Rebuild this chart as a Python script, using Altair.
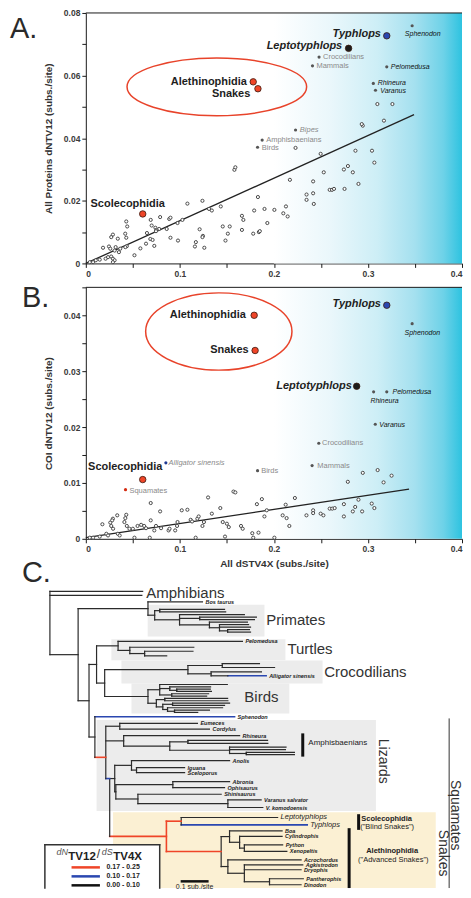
import altair as alt
import pandas as pd

FONT = "Liberation Sans"
RED = "#ef4528"
BLUE = "#2a47b0"
BLK = "#2b2b2b"
W = 377
HA = 251
HB = 252
HC = 326

# ---------------- ticks ----------------
X_TICKS = [0, 0.05, 0.1, 0.15, 0.2, 0.25, 0.3, 0.35, 0.4]
A_Y_TICKS = [0, 0.01, 0.02, 0.03, 0.04, 0.05, 0.06, 0.07, 0.08]
B_Y_TICKS = [0, 0.005, 0.01, 0.015, 0.02, 0.025, 0.03, 0.035, 0.04, 0.045]

# ---------------- Panel A (all proteins) ----------------
A_PTS_X = [0.158, 0.159, 0.183, 0.108, 0.124, 0.1435, 0.134, 0.131, 0.179, 0.190, 0.2005, 0.166, 0.1675, 0.166,
           0.178, 0.184, 0.185, 0.193, 0.1456, 0.153, 0.151, 0.1485, 0.121, 0.1245, 0.124, 0.126, 0.117, 0.116,
           0.1027, 0.0975, 0.079, 0.0887, 0.090, 0.086, 0.090, 0.098, 0.078, 0.069, 0.070, 0.074, 0.075, 0.0746,
           0.065, 0.0686, 0.071, 0.0728, 0.064, 0.058, 0.0517, 0.043, 0.044, 0.0419, 0.043, 0.0436, 0.042, 0.034,
           0.0288, 0.027, 0.0317, 0.0306, 0.0366, 0.0352, 0.0246, 0.026, 0.0183, 0.027, 0.0288, 0.0236, 0.021,
           0.0148, 0.0106, 0.0077, 0.0042, 0.0306, 0.0288,
           0.310, 0.326, 0.2945, 0.2934, 0.317, 0.223, 0.2497, 0.2867, 0.3043, 0.3068, 0.217, 0.2417, 0.253,
           0.2744, 0.2787, 0.2839, 0.2899, 0.2593, 0.2618, 0.2639, 0.2751, 0.2347, 0.2417, 0.2347, 0.2424,
           0.2128, 0.2100, 0.2146]
A_PTS_Y = [0.0299, 0.0307, 0.0212, 0.0191, 0.0200, 0.0182, 0.0169, 0.0174, 0.0169, 0.0174, 0.0171, 0.0152, 0.0139, 0.0107,
           0.0095, 0.0100, 0.0103, 0.0129, 0.0118, 0.0118, 0.0095, 0.0073, 0.0109, 0.0088, 0.0084, 0.0050, 0.0068, 0.0054,
           0.0139, 0.0129, 0.0148, 0.0142, 0.0146, 0.0110, 0.0082, 0.0073, 0.0110, 0.0139, 0.0121, 0.0114, 0.0107, 0.0103,
           0.0097, 0.0078, 0.0075, 0.0056, 0.0063, 0.0048, 0.0026, 0.0134, 0.0118, 0.0095, 0.0082, 0.0055, 0.0052, 0.0079,
           0.0092, 0.0084, 0.0052, 0.0041, 0.0047, 0.0036, 0.0054, 0.0047, 0.0050, 0.0022, 0.0015, 0.0020, 0.0015,
           0.0012, 0.0010, 0.0004, 0.0004, 0.0010, 0.0004,
           0.0509, 0.0509, 0.0440, 0.0445, 0.0456, 0.0369, 0.0350, 0.0360, 0.0360, 0.0322, 0.0267, 0.0262, 0.0291,
           0.0300, 0.0311, 0.0291, 0.0254, 0.0235, 0.0235, 0.0238, 0.0238, 0.0220, 0.0224, 0.0203, 0.0190,
           0.0182, 0.0160, 0.0150]
A_SMALL_X = [0.248, 0.241, 0.320, 0.347, 0.3057, 0.308, 0.223, 0.1875, 0.1826]
A_SMALL_Y = [0.0659, 0.0631, 0.0628, 0.0759, 0.0575, 0.0553, 0.0426, 0.0394, 0.0371]
A_SMALL_C = ["#555555"] * 9
A_BIG_X = [0.320, 0.2794, 0.178, 0.183, 0.0605]
A_BIG_Y = [0.0727, 0.0687, 0.058, 0.0558, 0.0158]
A_BIG_C = [BLUE, "#1c1c1c", RED, RED, RED]
A_LAB_TEXT = ["Typhlops", "Leptotyphlops", "Alethinophidia", "Snakes", "Scolecophidia", "Crocodilians", "Mammals",
              "Pelomedusa", "Sphenodon", "Rhineura", "Varanus", "Bipes", "Amphisbaenians", "Birds"]
A_LAB_X = [0.3138, 0.2726, 0.1713, 0.1749, 0.005, 0.2522, 0.2452, 0.3243, 0.3582, 0.3103, 0.3131, 0.2276, 0.1918, 0.1871]
A_LAB_Y = [0.0732, 0.0695, 0.0581, 0.0541, 0.0190, 0.0658, 0.0631, 0.0628, 0.0734, 0.0576, 0.0552, 0.0427, 0.0395, 0.0370]
A_LAB_STYLE = ["bigi", "bigi", "big", "big", "bigl", "gray", "gray", "sp", "spc", "sp", "sp", "grayi", "gray", "gray"]
A_FIT_X = [0.0, 0.349]
A_FIT_Y = [0.0, 0.0475]
A_ELL_X = [0.1393]
A_ELL_Y = [0.0564]

# ---------------- Panel B (COI) ----------------
B_PTS_X = [0.157, 0.159, 0.130, 0.069, 0.079, 0.102, 0.108, 0.143, 0.043, 0.042, 0.041, 0.0334, 0.0176, 0.026,
           0.027, 0.029, 0.0588, 0.069, 0.080, 0.088, 0.089, 0.0975, 0.097, 0.1115, 0.113, 0.1186, 0.120, 0.124,
           0.1256, 0.134, 0.1456, 0.150, 0.152, 0.165, 0.1668, 0.177, 0.1836, 0.178, 0.2005, 0.068, 0.0517,
           0.1168, 0.148, 0.034, 0.036, 0.0464, 0.050, 0.055, 0.062, 0.064, 0.0728, 0.0746, 0.0218, 0.0236,
           0.0148, 0.0077, 0.0042, 0.0288, 0.028, 0.0436, 0.095,
           0.2945, 0.3103, 0.3251, 0.3166, 0.2786, 0.1819, 0.1872, 0.2223, 0.2125, 0.1924, 0.1899, 0.2093,
           0.2135, 0.2164, 0.2346, 0.2417, 0.2417, 0.2497, 0.2526, 0.2593, 0.2621, 0.2646, 0.2744, 0.2744,
           0.2839, 0.2864, 0.2899, 0.2938, 0.3040, 0.3068]
B_PTS_Y = [0.00845, 0.0083, 0.0074, 0.0064, 0.0049, 0.0051, 0.0052, 0.0055, 0.0043, 0.0037, 0.0030, 0.0042, 0.0026, 0.0029,
           0.0023, 0.0018, 0.0025, 0.0033, 0.0019, 0.0015, 0.0018, 0.0030, 0.0023, 0.0034, 0.0031, 0.0036, 0.0040, 0.0023,
           0.0030, 0.0045, 0.0030, 0.0027, 0.0021, 0.0023, 0.0018, 0.0010, 0.0011, 0.0002, 0.0002, 0.0002, 0.0002,
           0.0002, 0.0004, 0.0009, 0.0006, 0.0018, 0.0018, 0.0023, 0.0023, 0.0019, 0.0015, 0.0023, 0.0009, 0.0006,
           0.0004, 0.0002, 0.0002, 0.0036, 0.0033, 0.0023, 0.0015,
           0.0118, 0.0123, 0.0113, 0.0101, 0.0102, 0.0062, 0.0071, 0.0073, 0.0061, 0.0051, 0.0040, 0.0042,
           0.0037, 0.0023, 0.0042, 0.0051, 0.0046, 0.0045, 0.0042, 0.0054, 0.0054, 0.0055, 0.0062, 0.0040,
           0.0049, 0.0057, 0.0070, 0.0049, 0.0063, 0.0055]
B_SMALL_X = [0.347, 0.306, 0.320, 0.3078, 0.2477, 0.2406, 0.1826, 0.0851, 0.0422]
B_SMALL_Y = [0.0385, 0.0263, 0.0263, 0.0205, 0.0171, 0.0131, 0.0122, 0.0136, 0.0088]
B_SMALL_C = ["#555555"] * 7 + ["#1f3a93", "#d42a10"]
B_BIG_X = [0.320, 0.179, 0.180, 0.288, 0.0605]
B_BIG_Y = [0.0418, 0.0400, 0.0337, 0.0273, 0.0106]
B_BIG_C = [BLUE, RED, RED, "#1c1c1c", RED]
B_LAB_TEXT = ["Typhlops", "Alethinophidia", "Snakes", "Leptotyphlops", "Scolecophidia", "Sphenodon", "Pelomedusa",
              "Rhineura", "Varanus", "Crocodilians", "Mammals", "Birds", "Alligator sinensis", "Squamates"]
B_LAB_X = [0.3138, 0.1702, 0.1731, 0.2829, 0.0024, 0.3578, 0.3261, 0.3026, 0.3121, 0.2512, 0.2462, 0.1865, 0.0879, 0.0464]
B_LAB_Y = [0.0420, 0.0401, 0.0338, 0.0274, 0.0128, 0.0369, 0.0262, 0.0247, 0.0204, 0.0171, 0.0131, 0.0122, 0.0136, 0.0085]
B_LAB_STYLE = ["bigi", "big", "big", "bigi", "bigl", "spc", "sp", "sp", "sp", "gray", "gray", "gray", "grayi", "gray"]
B_FIT_X = [0.0, 0.3437]
B_FIT_Y = [0.0002, 0.0089]
B_ELL_X = [0.1414]
B_ELL_Y = [0.0371]

# ---------------- Panel C (tree) ----------------
def N(x, kids, c=BLK, vc=BLK, y=None):
    return {"x": x, "kids": kids, "c": c, "vc": vc, "y": y}


def L(x, y, name="", c=BLK, st="t"):
    return {"x": x, "y": y, "name": name, "c": c, "st": st}


TREE = N(0.0, [
    L(0.332, 2.7), L(0.329, 6.7),
    N(0.101, [
        N(0.351, [
            L(0.546, 13.3, "Bos taurus"),
            N(0.375, [
                N(0.393, [L(0.625, 20.7), L(0.629, 23.3)]),
                N(0.464, [L(0.696, 26.0),
                          N(0.536, [L(0.739, 28.5), L(0.732, 31.0)]),
                          N(0.571, [L(0.707, 33.5),
                                    N(0.607, [L(0.711, 36.0), L(0.718, 38.5),
                                              N(0.636, [L(0.714, 41.0), L(0.718, 43.5)])])])])])]),
        N(0.140, [
            N(0.167, [
                N(0.244, [L(0.689, 52.7, "Pelomedusa"),
                          N(0.286, [L(0.515, 58.7), N(0.339, [L(0.512, 62.7), L(0.418, 67.3)])])]),
                N(0.196, [
                    N(0.494, [N(0.617, [L(0.750, 75.0), L(0.804, 79.0)]),
                              N(0.577, [L(0.757, 83.3),
                                        N(0.637, [L(0.774, 87.3, "Alligator sinensis", BLUE)])])]),
                    N(0.351, [
                        N(0.393, [L(0.635, 96.0),
                                  N(0.429, [L(0.575, 98.3), N(0.454, [L(0.574, 100.7), L(0.578, 103.0)])]),
                                  N(0.436, [L(0.568, 105.3), L(0.561, 107.7)])]),
                        N(0.381, [N(0.411, [L(0.636, 110.0), L(0.637, 112.3)]),
                                  N(0.404, [N(0.439, [L(0.643, 114.7), L(0.625, 117.0)]),
                                            N(0.421, [L(0.618, 119.3),
                                                      N(0.446, [L(0.571, 121.7), L(0.529, 124.0)])])])])])])]),
            N(0.161, [
                L(0.661, 128.3, "Sphenodon", BLUE),
                N(0.200, [
                    N(0.250, [L(0.528, 135.0, "Eumeces"), L(0.571, 140.7, "Cordylus")]),
                    N(0.264, [L(0.679, 147.3, "Rhineura"),
                              N(0.429, [N(0.494, [L(0.779, 152.0), L(0.780, 155.0)]),
                                        N(0.643, [L(0.845, 158.7), L(0.843, 161.3),
                                                  N(0.703, [L(0.875, 164.0), L(0.875, 166.3)])])])]),
                    N(0.214, [
                        N(0.232, [
                            N(0.292, [L(0.643, 172.3, "Anolis"),
                                      N(0.310, [L(0.482, 179.3, "Iguana"), L(0.482, 184.3, "Sceloporus")])]),
                            N(0.236, [N(0.440, [L(0.643, 193.3, "Abronia"), L(0.625, 199.3, "Ophisaurus")]),
                                      N(0.315, [L(0.613, 206.0, "Shinisaurus"),
                                                N(0.637, [L(0.756, 211.7, "Varanus salvator"),
                                                          L(0.762, 219.3, "V. komodoensis")])])])]),
                        N(0.417, [
                            N(0.470, [L(0.815, 229.3, "Leptotyphlops", st="s"),
                                      L(0.921, 236.7, "Typhlops", BLUE, st="s")], c=RED),
                            N(0.613, [
                                N(0.643, [L(0.831, 242.7, "Boa", st="b"),
                                          N(0.679, [L(0.831, 248.3, "Cylindrophis", st="b"),
                                                    N(0.696, [L(0.833, 256.7, "Python", st="b"),
                                                              L(0.848, 263.3, "Xenopeltis", st="b")])])]),
                                N(0.637, [L(0.899, 271.7, "Acrochordus", st="b"),
                                          N(0.696, [L(0.905, 276.7, "Agkistrodon", st="b"),
                                                    L(0.899, 281.7, "Dryophis", st="b"),
                                                    N(0.786, [L(0.907, 290.7, "Pantherophis", st="b"),
                                                              L(0.899, 296.7, "Dinodon", st="b")])])])], c=RED)
                        ], c=RED, vc=RED)
                    ], c=BLUE, y="first")
                ], c=RED, y=169.0)
            ])
        ])
    ])
])

BOX_X1 = [0.350, 0.220, 0.256, 0.292, 0.167, 0.226]
BOX_X2 = [0.768, 0.843, 0.976, 0.857, 1.167, 1.381]
BOX_Y1 = [16.0, 50.7, 72.0, 95.0, 131.7, 224.0]
BOX_Y2 = [48.0, 71.7, 95.0, 125.0, 222.7, 300.0]
BOX_F = ["#ececec", "#ececec", "#ececec", "#ececec", "#ececec", "#fbf0d3"]

CLADE_TEXT = ["Amphibians", "Primates", "Turtles", "Crocodilians", "Birds"]
CLADE_X = [0.345, 0.774, 0.850, 0.982, 0.696]
CLADE_Y = [4.0, 31.7, 60.0, 83.3, 108.3]
ROT_TEXT = ["Lizards", "Squamates", "Snakes"]
ROT_X = [1.193, 1.450, 1.407]
ROT_Y = [173.0, 227.0, 265.0]

BAR_X = [0.905, 1.105, 1.071]
BAR_Y1 = [145.0, 226.0, 240.0]
BAR_Y2 = [168.3, 241.7, 300.0]
SQ_LINE_X = [1.429]
SQ_LINE_Y1 = [130.0]
SQ_LINE_Y2 = [300.0]

GRP_TEXT = ["Scolecophidia", "Alethinophidia"]
GRP_X = [1.205, 1.225]
GRP_Y = [230.7, 263.3]
SUB_TEXT = ['("Blind Snakes")', '("Advanced Snakes")']
SUB_X = [1.207, 1.229]
SUB_Y = [239.0, 271.7]

LEG_X1 = [-0.018]
LEG_X2 = [0.393]
LEG_Y1 = [256.7]
LEG_Y2 = [300.0]
LEG_LINE_C = [RED, BLUE, "#111111"]
LEG_LINE_Y = [279.3, 288.3, 297.3]
LEG_LINE_X1 = [0.0774] * 3
LEG_LINE_X2 = [0.179] * 3
LEG_LAB = ["0.17 - 0.25", "0.10 - 0.17", "0.00 - 0.10"]
LEG_LAB_X = [0.2025] * 3

SCALE_X1 = [0.468]
SCALE_X2 = [0.568]
SCALE_Y = [293.3]

# ---------------- helpers ----------------
AXIS_STYLE = dict(grid=False, tickSize=4, tickColor="#1a1a1a", domainColor="#1a1a1a", labelFont=FONT,
                  labelFontSize=8.5, labelFontWeight="bold", labelColor="#3a3a3a", labelPadding=2,
                  labelOverlap=False, titleFont=FONT, titleFontSize=10, titleFontWeight="bold",
                  titleColor="#333333")
XLAB = "round(datum.value*100) % 10 == 0 ? (datum.value == 0 ? '0' : format(datum.value, '.1f')) : ''"
AYLAB = "round(datum.value*100) % 2 == 0 ? (datum.value == 0 ? '0' : format(datum.value, '.2f')) : ''"
BYLAB = "round(datum.value*1000) % 10 == 0 ? (datum.value == 0 ? '0' : format(datum.value, '.2f')) : ''"

STYLES = {
    "bigi": dict(fontSize=11, fontWeight="bold", fontStyle="italic", color="#1e1e1e", align="right"),
    "big": dict(fontSize=11, fontWeight="bold", fontStyle="normal", color="#1e1e1e", align="right"),
    "bigl": dict(fontSize=11, fontWeight="bold", fontStyle="normal", color="#1e1e1e", align="left"),
    "gray": dict(fontSize=7.5, fontWeight="normal", fontStyle="normal", color="#8a8a8a", align="left"),
    "grayi": dict(fontSize=7.5, fontWeight="normal", fontStyle="italic", color="#8a8a8a", align="left"),
    "sp": dict(fontSize=7, fontWeight="normal", fontStyle="italic", color="#111111", align="left"),
    "spc": dict(fontSize=7, fontWeight="normal", fontStyle="italic", color="#111111", align="center"),
}

GRAD = alt.LinearGradient(gradient="linear", x1=0, x2=1, y1=0, y2=0, stops=[
    alt.GradientStop(color="#ffffff", offset=0),
    alt.GradientStop(color="#eaf7fb", offset=0.3),
    alt.GradientStop(color="#cdeef6", offset=0.55),
    alt.GradientStop(color="#a4e0ef", offset=0.75),
    alt.GradientStop(color="#6ed2e8", offset=0.9),
    alt.GradientStop(color="#2ec3e0", offset=1),
])

ONE = pd.DataFrame({"k": [0]})


def ellipse_path(r):
    k = 0.5523
    a = round(r * k, 3)
    return (f"M -1 0 C -1 {-a} -0.552 {-r} 0 {-r} C 0.552 {-r} 1 {-a} 1 0 "
            f"C 1 {a} 0.552 {r} 0 {r} C -0.552 {r} -1 {a} -1 0 Z")


def scatter_panel(h, ydom, yticks, ylab, ytitle, xtitle, pts, small, big, labs, fit, ell, ell_r, ell_size,
                  letter, letter_x, letter_y):
    if xtitle:
        xax = alt.Axis(values=X_TICKS, labelExpr=XLAB, title=xtitle, titlePadding=5, **AXIS_STYLE)
    else:
        xax = alt.Axis(values=X_TICKS, labelExpr=XLAB, title=None, **AXIS_STYLE)
    yax = alt.Axis(values=yticks, labelExpr=ylab, title=ytitle, titlePadding=10, **AXIS_STYLE)
    xs = alt.Scale(domain=[0, 0.4], nice=False, zero=False)
    ys = alt.Scale(domain=ydom, nice=False, zero=False)
    XE = alt.X("x:Q", scale=xs, axis=xax)
    YE = alt.Y("y:Q", scale=ys, axis=yax)

    layers = []
    layers.append(alt.Chart(ONE).mark_rect(fill=GRAD).encode(
        x=alt.XDatum(0.2, scale=xs, axis=xax), x2=alt.X2Datum(0.4), y=alt.value(0), y2=alt.value(h)))
    layers.append(alt.Chart(ONE).mark_rule(color="#1a1a1a", strokeWidth=1).encode(
        x=alt.value(0), x2=alt.value(W), y=alt.value(0)))
    layers.append(alt.Chart(pd.DataFrame({"x": fit[0], "y": fit[1]})).mark_line(
        color="#222222", strokeWidth=1.3).encode(x=XE, y=YE))
    layers.append(alt.Chart(pd.DataFrame({"x": ell[0], "y": ell[1]})).mark_point(
        shape=ellipse_path(ell_r), size=ell_size, filled=False, stroke="#e8432a", strokeWidth=1.5,
        opacity=1).encode(x=XE, y=YE))
    layers.append(alt.Chart(pd.DataFrame({"x": pts[0], "y": pts[1]})).mark_circle(
        size=10, fill="white", stroke="#4a4a4a", strokeWidth=1, opacity=1).encode(x=XE, y=YE))
    layers.append(alt.Chart(pd.DataFrame({"x": small[0], "y": small[1], "c": small[2]})).mark_circle(
        size=10, opacity=1).encode(x=XE, y=YE, color=alt.Color("c:N", scale=None)))
    layers.append(alt.Chart(pd.DataFrame({"x": big[0], "y": big[1], "c": big[2]})).mark_circle(
        size=42, opacity=1, stroke="#3a1a10", strokeWidth=0.8).encode(
        x=XE, y=YE, color=alt.Color("c:N", scale=None)))
    df_l = pd.DataFrame({"x": labs[1], "y": labs[2], "t": labs[0], "s": labs[3]})
    for st, props in STYLES.items():
        sub = df_l[df_l["s"] == st]
        if len(sub) == 0:
            continue
        layers.append(alt.Chart(sub).mark_text(font=FONT, baseline="middle", **props).encode(
            x=XE, y=YE, text="t:N"))
    layers.append(alt.Chart(ONE).mark_text(font=FONT, fontSize=29, color="#2a2a2a", align="left",
                                           baseline="alphabetic").encode(
        x=alt.value(letter_x), y=alt.value(letter_y), text=alt.value(letter)))
    return alt.layer(*layers).properties(width=W, height=h)


chartA = scatter_panel(HA, [0, 0.08], A_Y_TICKS, AYLAB, "All Proteins dNTV12 (subs./site)", None,
                       (A_PTS_X, A_PTS_Y), (A_SMALL_X, A_SMALL_Y, A_SMALL_C), (A_BIG_X, A_BIG_Y, A_BIG_C),
                       (A_LAB_TEXT, A_LAB_X, A_LAB_Y, A_LAB_STYLE), (A_FIT_X, A_FIT_Y), (A_ELL_X, A_ELL_Y),
                       0.322, 32400, "A.", -76, 25)
chartB = scatter_panel(HB, [0, 0.045], B_Y_TICKS, BYLAB, "COI dNTV12 (subs./site)", "All dSTV4X (subs./site)",
                       (B_PTS_X, B_PTS_Y), (B_SMALL_X, B_SMALL_Y, B_SMALL_C), (B_BIG_X, B_BIG_Y, B_BIG_C),
                       (B_LAB_TEXT, B_LAB_X, B_LAB_Y, B_LAB_STYLE), (B_FIT_X, B_FIT_Y), (B_ELL_X, B_ELL_Y),
                       0.528, 21500, "B.", -64, 20)

# ---------------- tree layout ----------------
SEGS = []
TIPS = []


def lay(node, parent_x):
    if "kids" in node:
        ys = [lay(k, node["x"]) for k in node["kids"]]
        if node["y"] == "first":
            y = ys[0]
        elif node["y"] is not None:
            y = node["y"]
        else:
            y = (ys[0] + ys[-1]) / 2
        if max(ys) > min(ys):
            SEGS.append({"x": node["x"], "x2": node["x"], "y": min(ys), "y2": max(ys), "c": node["vc"],
                         "w": 1.2 if node["vc"] == BLK else 1.6})
    else:
        y = node["y"]
        if node["name"]:
            TIPS.append({"x": node["x"], "y": y, "t": node["name"], "s": node["st"]})
    if parent_x is not None:
        SEGS.append({"x": parent_x, "x2": node["x"], "y": y, "y2": y, "c": node["c"],
                     "w": 1.2 if node["c"] == BLK else 1.6})
    return y


lay(TREE, None)

XC = alt.X("x:Q", scale=alt.Scale(domain=[0.128571, 1.475], nice=False, zero=False), axis=None)
YC = alt.Y("y:Q", scale=alt.Scale(domain=[-26, 300], nice=False, zero=False, reverse=True), axis=None)
X2C = alt.X2("x2:Q")
Y2C = alt.Y2("y2:Q")

c_layers = []
c_layers.append(alt.Chart(pd.DataFrame({"x": BOX_X1, "x2": BOX_X2, "y": BOX_Y1, "y2": BOX_Y2, "f": BOX_F}))
                .mark_rect(opacity=1).encode(x=XC, x2=X2C, y=YC, y2=Y2C, fill=alt.Fill("f:N", scale=None)))
c_layers.append(alt.Chart(pd.DataFrame(SEGS)).mark_rule(strokeCap="square").encode(
    x=XC, x2=X2C, y=YC, y2=Y2C, color=alt.Color("c:N", scale=None),
    strokeWidth=alt.StrokeWidth("w:Q", scale=None)))
df_tips = pd.DataFrame(TIPS)
TIP_STYLES = {
    "t": dict(fontSize=5.5, fontWeight="bold", fontStyle="italic", color="#222222"),
    "b": dict(fontSize=5.5, fontWeight="bold", fontStyle="italic", color="#222222"),
    "s": dict(fontSize=7.5, fontWeight="normal", fontStyle="italic", color="#222222"),
}
for st, props in TIP_STYLES.items():
    sub = df_tips[df_tips["s"] == st]
    c_layers.append(alt.Chart(sub).mark_text(font=FONT, align="left", baseline="middle", dx=3, **props)
                    .encode(x=XC, y=YC, text="t:N"))
c_layers.append(alt.Chart(pd.DataFrame({"x": CLADE_X, "y": CLADE_Y, "t": CLADE_TEXT})).mark_text(
    font=FONT, fontSize=15, color="#333333", align="left", baseline="middle").encode(x=XC, y=YC, text="t:N"))
c_layers.append(alt.Chart(pd.DataFrame({"x": ROT_X, "y": ROT_Y, "t": ROT_TEXT})).mark_text(
    font=FONT, fontSize=14, color="#333333", align="center", baseline="middle", angle=90).encode(
    x=XC, y=YC, text="t:N"))
c_layers.append(alt.Chart(pd.DataFrame({"x": BAR_X, "x2": BAR_X, "y": BAR_Y1, "y2": BAR_Y2})).mark_rule(
    color="#111111", strokeWidth=3).encode(x=XC, x2=X2C, y=YC, y2=Y2C))
c_layers.append(alt.Chart(pd.DataFrame({"x": SQ_LINE_X, "x2": SQ_LINE_X, "y": SQ_LINE_Y1, "y2": SQ_LINE_Y2}))
                .mark_rule(color="#333333", strokeWidth=1).encode(x=XC, x2=X2C, y=YC, y2=Y2C))
c_layers.append(alt.Chart(pd.DataFrame({"x": [0.925], "y": [155.0], "t": ["Amphisbaenians"]})).mark_text(
    font=FONT, fontSize=8, color="#222222", align="left", baseline="middle").encode(x=XC, y=YC, text="t:N"))
c_layers.append(alt.Chart(pd.DataFrame({"x": GRP_X, "y": GRP_Y, "t": GRP_TEXT})).mark_text(
    font=FONT, fontSize=7.5, fontWeight="bold", color="#222222", align="center", baseline="middle").encode(
    x=XC, y=YC, text="t:N"))
c_layers.append(alt.Chart(pd.DataFrame({"x": SUB_X, "y": SUB_Y, "t": SUB_TEXT})).mark_text(
    font=FONT, fontSize=7.5, color="#222222", align="center", baseline="middle").encode(
    x=XC, y=YC, text="t:N"))
# legend box
c_layers.append(alt.Chart(pd.DataFrame({"x": LEG_X1, "x2": LEG_X2, "y": LEG_Y1, "y2": LEG_Y2})).mark_rect(
    fill="white", opacity=1).encode(x=XC, x2=X2C, y=YC, y2=Y2C))
c_layers.append(alt.Chart(pd.DataFrame({
    "x": [LEG_X1[0], LEG_X1[0], LEG_X2[0]], "x2": [LEG_X1[0], LEG_X2[0], LEG_X2[0]],
    "y": [LEG_Y1[0], LEG_Y1[0], LEG_Y1[0]], "y2": [LEG_Y2[0], LEG_Y1[0], LEG_Y2[0]]})).mark_rule(
    color="#333333", strokeWidth=1.5, strokeCap="square").encode(x=XC, x2=X2C, y=YC, y2=Y2C))
LEG_T = [("dN", 0.0239, 264.0, 9, "normal", "italic", "#555555"),
         ("TV12", 0.066, 269.3, 11.5, "bold", "normal", "#222222"),
         ("/", 0.168, 266.0, 12, "normal", "normal", "#333333"),
         ("dS", 0.186, 264.0, 9, "normal", "italic", "#555555"),
         ("TV4X", 0.227, 269.3, 11.5, "bold", "normal", "#222222")]
for t, x, y, fs, fw, fst, col in LEG_T:
    c_layers.append(alt.Chart(pd.DataFrame({"x": [x], "y": [y], "t": [t]})).mark_text(
        font=FONT, fontSize=fs, fontWeight=fw, fontStyle=fst, color=col, align="left", baseline="middle")
        .encode(x=XC, y=YC, text="t:N"))
c_layers.append(alt.Chart(pd.DataFrame({"x": LEG_LINE_X1, "x2": LEG_LINE_X2, "y": LEG_LINE_Y, "y2": LEG_LINE_Y,
                                        "c": LEG_LINE_C})).mark_rule(strokeWidth=2.5).encode(
    x=XC, x2=X2C, y=YC, y2=Y2C, color=alt.Color("c:N", scale=None)))
c_layers.append(alt.Chart(pd.DataFrame({"x": LEG_LAB_X, "y": LEG_LINE_Y, "t": LEG_LAB})).mark_text(
    font=FONT, fontSize=7, fontWeight="bold", color="#222222", align="left", baseline="middle").encode(
    x=XC, y=YC, text="t:N"))
c_layers.append(alt.Chart(pd.DataFrame({"x": SCALE_X1, "x2": SCALE_X2, "y": SCALE_Y, "y2": SCALE_Y})).mark_rule(
    color="#111111", strokeWidth=2.5).encode(x=XC, x2=X2C, y=YC, y2=Y2C))
c_layers.append(alt.Chart(pd.DataFrame({"x": [0.518], "y": [299.0], "t": ["0.1 sub./site"]})).mark_text(
    font=FONT, fontSize=7, color="#222222", align="center", baseline="middle").encode(x=XC, y=YC, text="t:N"))
c_layers.append(alt.Chart(ONE).mark_text(font=FONT, fontSize=29, color="#2a2a2a", align="left",
                                         baseline="alphabetic").encode(
    x=alt.value(-64), y=alt.value(19), text=alt.value("C.")))

chartC = alt.layer(*c_layers).properties(width=W, height=HC)

chart = alt.vconcat(chartA, chartB, chartC, spacing=24, bounds="flush").properties(
    padding={"left": 2, "top": 0, "right": 0, "bottom": 0}
).configure_view(stroke=None)

chart.save("out.html", embed_options={"renderer": "svg", "actions": False})
